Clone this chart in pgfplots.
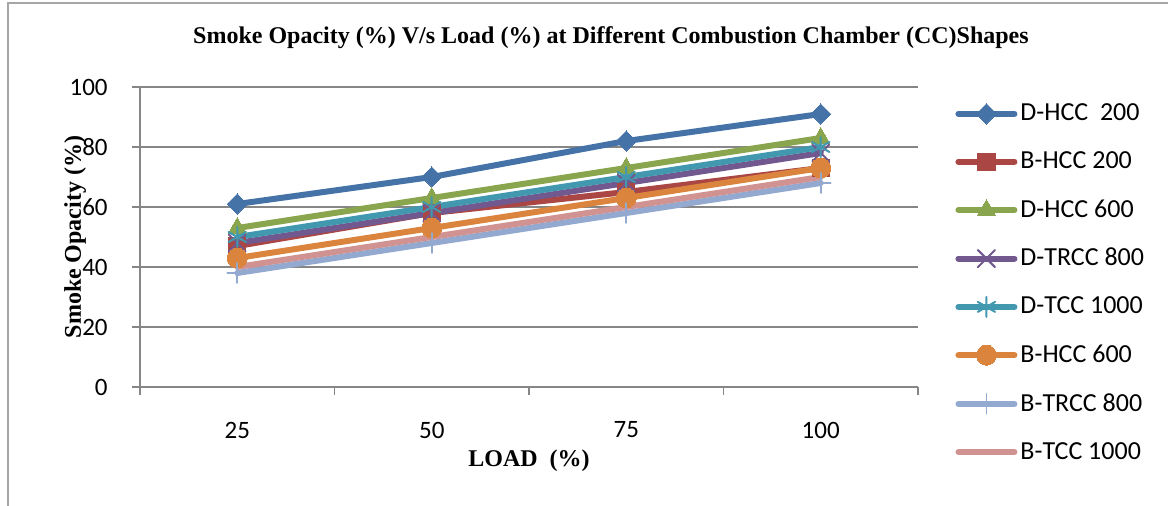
\documentclass[border=0pt]{standalone}
\usepackage{pgfplots}
\pgfplotsset{compat=1.18}
\usepackage{fontspec}
\setmainfont{Carlito}
\newfontfamily\tnr{Liberation Serif}
\definecolor{c1}{RGB}{69,114,167}
\definecolor{c2}{RGB}{170,70,67}
\definecolor{c3}{RGB}{137,165,78}
\definecolor{c4}{RGB}{113,88,143}
\definecolor{c5}{RGB}{65,152,175}
\definecolor{c6}{RGB}{219,132,61}
\definecolor{c7}{RGB}{147,169,207}
\definecolor{c8}{RGB}{209,147,146}
\definecolor{gridc}{RGB}{134,134,134}
\begin{document}
\begin{tikzpicture}
\useasboundingbox (0,0) rectangle (584pt,252.5pt);
\draw[black!35, line width=1pt] (4pt,-3pt) rectangle (590pt,251pt);
\begin{axis}[
  at={(70pt,59pt)}, anchor=south west,
  scale only axis, width=389pt, height=150pt,
  xmin=0.5, xmax=4.5, ymin=0, ymax=100,
  axis x line=bottom, axis y line=left,
  axis line style={gridc, line width=0.7pt, -},
  xtick={1,2,3,4}, xticklabels={25,50,75,100},
  minor xtick={0.5,1.5,2.5,3.5,4.5},
  ytick={0,20,40,60,80,100},
  major x tick style={draw=none},
  minor x tick style={gridc, line width=0.7pt},
  major y tick style={gridc, line width=0.7pt},
  tick align=outside, major tick length=4pt, minor tick length=4pt,
  ymajorgrids, grid style={gridc, line width=0.7pt},
  /pgf/number format/assume math mode=true,
  tick label style={font=\fontsize{12.5}{15}\selectfont},
  xticklabel style={anchor=center, yshift=-17.5pt, inner sep=0pt},
  yticklabel style={anchor=east, inner sep=0pt, xshift=-12pt},
  every axis title shift=0pt,
  title={\tnr\bfseries Smoke Opacity (\%) V/s Load (\%) at Different Combustion Chamber (CC)Shapes},
  title style={at={(rel axis cs:0.6054,1.163)}, anchor=center, font=\fontsize{12}{14}\selectfont, inner sep=0pt},
  xlabel={\tnr\bfseries LOAD\ \ (\%)},
  xlabel style={at={(rel axis cs:0.5,-0.247)}, anchor=center, font=\fontsize{12}{14}\selectfont, inner sep=0pt},
  ylabel={\tnr\bfseries Smoke Opacity (\%)},
  ylabel style={at={(rel axis cs:-0.0835,0.5)}, anchor=center, font=\fontsize{12}{14}\selectfont, inner sep=0pt},
  legend style={at={(rel axis cs:1.0476,0.955)}, anchor=north west, draw=none, fill=none,
    font=\fontsize{13}{15.5}\selectfont, row sep=11pt, inner sep=0pt,
    nodes={inner sep=1.5pt}},
  legend cell align=left,
  legend image code/.code={\draw[#1, mark repeat=2, mark phase=2] plot coordinates {(0pt,0pt) (14pt,0pt) (28pt,0pt)};},
  every axis plot/.append style={line width=3pt, line cap=round},
  clip=false,
]
\addplot[c1, mark=square*, mark size=3.6pt, mark options={rotate=45, solid, fill=c1, line width=0pt}] coordinates {(1,61) (2,70) (3,82) (4,91)};
\addplot[c2, mark=square*, mark size=4.3pt, mark options={solid, fill=c2, line width=0pt}] coordinates {(1,47) (2,58) (3,65) (4,73)};
\addplot[c3, mark=triangle*, mark size=5.2pt, mark options={solid, fill=c3, line width=0pt}] coordinates {(1,53) (2,63) (3,73) (4,83)};
\addplot[c4, mark=x, mark size=6pt, mark options={solid, line width=1pt}] coordinates {(1,48) (2,58) (3,68) (4,78)};
\addplot[c5, mark=asterisk, mark size=5pt, mark options={solid, line width=1pt}] coordinates {(1,50) (2,60) (3,70) (4,80)};
\addplot[c6, mark=*, mark size=5pt, mark options={solid, fill=c6, line width=0pt}] coordinates {(1,43) (2,53) (3,63) (4,73)};
\addplot[c7, mark=+, mark size=5pt, mark options={solid, line width=0.8pt}] coordinates {(1,38) (2,48) (3,58) (4,68)};
\addplot[c8, mark=none] coordinates {(1,40) (2,50) (3,60) (4,70)};
\legend{D-HCC\ \ 200, B-HCC 200, D-HCC 600, D-TRCC 800, D-TCC 1000, B-HCC 600, B-TRCC 800, B-TCC 1000}
\end{axis}
\end{tikzpicture}
\end{document}
